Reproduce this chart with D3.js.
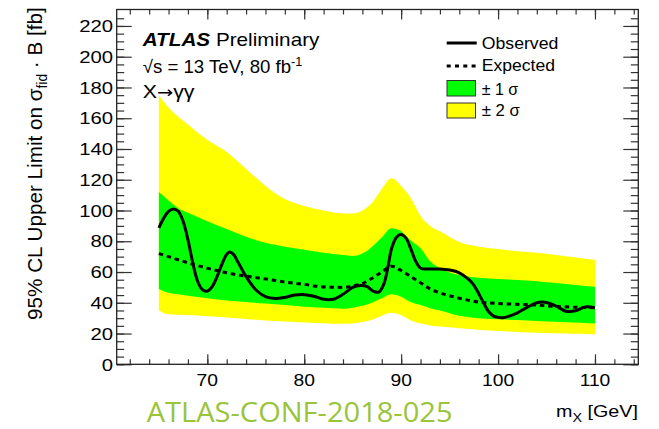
<!DOCTYPE html>
<html>
<head>
<meta charset="utf-8">
<script src="https://cdn.jsdelivr.net/npm/d3@7"></script>
<style>
  body { margin: 0; background: #fff; }
  svg { display: block; }
</style>
</head>
<body>
<svg id="chart" width="659" height="429"></svg>
<script>
// Mass points (GeV) at which the expected limit and its bands are given
const massBand = [65, 66, 67, 68, 70, 72, 74, 76, 78, 80, 82, 84, 85, 86, 87, 88, 89, 90, 91, 92, 93, 94, 96, 98, 100, 102, 104, 106, 108, 110];
const twoSigmaUp = [175, 167, 161, 156, 146, 138, 127, 116, 107.5, 103, 100, 98, 98, 100, 105, 114, 121, 116, 108, 96.5, 90, 86.5, 79.5, 76.5, 75, 73.5, 72.5, 71, 69.5, 68];
const oneSigmaUp = [112, 106.5, 101.5, 98.5, 93, 88, 83, 79, 76.5, 74.5, 72.5, 71, 70.5, 72, 76.5, 82.5, 88.5, 86.5, 80.5, 75.5, 67, 62.5, 58, 56.3, 55.5, 54.8, 54, 52.8, 51.6, 50.4];
const expected = [72, 70, 68, 66, 62.5, 59.5, 57.3, 55.5, 53.5, 52, 50.3, 50, 51, 52.5, 56, 60, 63.8, 61, 57, 53, 49, 46.5, 43, 40.5, 39.5, 39, 38.5, 37.6, 37.1, 36.8];
const oneSigmaDn = [49, 46.5, 45.5, 44.5, 43, 41.5, 40.5, 39.5, 38.5, 37.5, 36.8, 36.2, 36.8, 38, 40, 43, 45.5, 44, 40.5, 38.5, 36.5, 35, 31.5, 30, 29.3, 28.8, 28.2, 27.6, 27.1, 26.6];
const twoSigmaDn = [35, 32.5, 32.2, 32, 31.3, 30.5, 29.5, 28.5, 27.8, 27.2, 26.7, 26.3, 26.6, 27.5, 29, 31.5, 33.5, 32, 28.5, 26.5, 25.3, 24.5, 23.5, 22.5, 21.7, 21, 20.5, 20.2, 19.8, 19.5];

// Observed limit (fb)
const massObs = [65, 65.5, 66, 66.5, 67, 67.5, 68, 68.5, 69, 69.5, 70, 70.5, 71, 71.5, 72, 72.3, 72.7, 73.2, 74, 75, 76, 77, 78, 79, 80, 81, 82, 83, 84, 85, 85.8, 86.5, 87.1, 87.7, 88.2, 88.6, 89, 89.5, 90, 90.5, 91, 91.5, 92, 93, 94, 95, 96, 97, 97.5, 98, 98.5, 99, 99.5, 100, 100.5, 101, 102, 103, 104, 105, 106, 107, 108, 109, 110];
const observed = [88.7, 95, 99.5, 101, 99.5, 93, 81, 66, 54, 48.5, 47.6, 50.5, 57, 65, 71.5, 73, 71.5, 66, 57, 48.5, 44, 42.8, 43.5, 45, 45.3, 44.3, 42.3, 42.3, 45.5, 50, 51.3, 50.5, 47.6, 47, 52, 62, 75, 82.5, 84.4, 82, 75, 67, 62.5, 62, 62, 61.3, 59.5, 55, 51.5, 46, 40, 34.5, 31.5, 30.5, 30.3, 31, 33.5, 37, 40, 40.2, 37.8, 34.5, 34.8, 37.3, 36.8];

// Axis ticks
const xMajorTicks = [70, 80, 90, 100, 110];
const yMajorTicks = [0, 20, 40, 60, 80, 100, 120, 140, 160, 180, 200, 220];
const xMinorTicks = d3.range(62, 115, 2);
const yMinorTicks = d3.range(0, 230, 5);

const FONT = '"Liberation Sans", Arial, Helvetica, sans-serif';
const svg = d3.select('#chart');

// Frame of the plotting area
const L = 116.7, R = 638.3, T = 9.5, B = 364.3;
const x = d3.scaleLinear().domain([60.65, 114.47]).range([L, R]);
const y = d3.scaleLinear().domain([0, 230.7]).range([B, T]);

const bandRows = massBand.map((m, i) => ({
  m, up2: twoSigmaUp[i], up1: oneSigmaUp[i], exp: expected[i], dn1: oneSigmaDn[i], dn2: twoSigmaDn[i]
}));
const obsRows = massObs.map((m, i) => ({ m, v: observed[i] }));

const curve = d3.curveMonotoneX;
const plot = svg.append('g');

plot.append('path')
  .datum(bandRows)
  .attr('fill', '#ffff00')
  .attr('d', d3.area().curve(curve).x(d => x(d.m)).y0(d => y(d.dn2)).y1(d => y(d.up2)));

plot.append('path')
  .datum(bandRows)
  .attr('fill', '#00ff00')
  .attr('d', d3.area().curve(curve).x(d => x(d.m)).y0(d => y(d.dn1)).y1(d => y(d.up1)));

plot.append('path')
  .datum(bandRows)
  .attr('fill', 'none')
  .attr('stroke', '#000')
  .attr('stroke-width', 3)
  .attr('stroke-dasharray', '4.5,3.8')
  .attr('d', d3.line().curve(curve).x(d => x(d.m)).y(d => y(d.exp)));

plot.append('path')
  .datum(obsRows)
  .attr('fill', 'none')
  .attr('stroke', '#000')
  .attr('stroke-width', 3)
  .attr('stroke-linejoin', 'round')
  .attr('d', d3.line().curve(d3.curveCatmullRom.alpha(0.5)).x(d => x(d.m)).y(d => y(d.v)));

// Ticks on all four sides, pointing inward
function ticks(axis, values, size, tx, ty) {
  const g = svg.append('g').attr('transform', `translate(${tx},${ty})`)
    .call(axis.tickValues(values).tickSize(-size).tickFormat(''));
  g.select('.domain').remove();
  g.selectAll('.tick line').attr('stroke', '#333').attr('stroke-width', 1.2);
}
ticks(d3.axisBottom(x), xMinorTicks, 5, 0, B);
ticks(d3.axisBottom(x), xMajorTicks, 10, 0, B);
ticks(d3.axisTop(x), xMinorTicks, 5, 0, T);
ticks(d3.axisTop(x), xMajorTicks, 10, 0, T);
ticks(d3.axisLeft(y), yMinorTicks, 7.5, L, 0);
ticks(d3.axisLeft(y), yMajorTicks, 15, L, 0);
ticks(d3.axisRight(y), yMinorTicks, 7.5, R, 0);
ticks(d3.axisRight(y), yMajorTicks, 15, R, 0);

svg.append('rect')
  .attr('x', L).attr('y', T).attr('width', R - L).attr('height', B - T)
  .attr('fill', 'none').attr('stroke', '#222').attr('stroke-width', 1.3);

// Text helper: parts may change size / font / shift baseline; optional horizontal fit
function label(px, py, o) {
  const g = svg.append('g').attr('transform', `translate(${px},${py})` + (o.rotate ? ` rotate(${o.rotate})` : ''));
  const t = g.append('text')
    .attr('font-family', o.family || FONT)
    .attr('font-size', o.size)
    .attr('text-anchor', o.anchor || 'start')
    .attr('fill', o.fill || '#000');
  o.parts.forEach(p => {
    const s = t.append('tspan').text(p.text);
    if (p.size) s.attr('font-size', p.size);
    if (p.family) s.attr('font-family', p.family);
    if (p.dy) s.attr('dy', p.dy);
    if (p.weight) s.attr('font-weight', p.weight);
    if (p.style) s.attr('font-style', p.style);
  });
  if (o.width) {
    const w = t.node().getBBox().width;
    t.attr('transform', `scale(${o.width / w},1)`);
  } else if (o.sx) {
    t.attr('transform', `scale(${o.sx},1)`);
  }
  return t;
}

// Tick labels
yMajorTicks.forEach(v => label(113, y(v) + 6.2, { size: 17.2, anchor: 'end', sx: 1.18, parts: [{ text: String(v) }] }));
xMajorTicks.forEach(v => label(x(v), 386, { size: 17.2, anchor: 'middle', sx: 1.12, parts: [{ text: String(v) }] }));

// Axis titles
label(41.7, 320, {
  rotate: -90, size: 21, width: 313,
  parts: [{ text: '95% CL Upper Limit on σ' }, { text: 'fid', size: 14, dy: 5 }, { text: ' · B [fb]', dy: -5 }]
});
label(556, 417, {
  size: 16.5, width: 82,
  parts: [{ text: 'm' }, { text: 'X', size: 12, dy: 5 }, { text: ' [GeV]', dy: -5 }]
});

// Experiment label
label(142.7, 46, { size: 17.7, width: 178, parts: [{ text: 'ATLAS', weight: 'bold', style: 'italic' }, { text: ' Preliminary' }] });
label(142.7, 72.7, { size: 17.7, width: 160, parts: [{ text: '√s = 13 TeV, 80 fb' }, { text: '-1', size: 12, dy: -7 }] });
label(142.7, 98, {
  size: 17.7, width: 52,
  parts: [{ text: 'X' }, { text: '→', family: '"DejaVu Sans", sans-serif', size: 16 }, { text: 'γγ' }]
});

// Legend
const leg = svg.append('g');
leg.append('line').attr('x1', 446.7).attr('x2', 476.7).attr('y1', 43).attr('y2', 43)
  .attr('stroke', '#000').attr('stroke-width', 3);
leg.append('line').attr('x1', 446.7).attr('x2', 476.7).attr('y1', 66).attr('y2', 66)
  .attr('stroke', '#000').attr('stroke-width', 3).attr('stroke-dasharray', '4,4.3');
leg.append('rect').attr('x', 447).attr('y', 80.5).attr('width', 28.5).attr('height', 15.5)
  .attr('fill', '#00ff00').attr('stroke', '#333').attr('stroke-width', 1);
leg.append('rect').attr('x', 447).attr('y', 103).attr('width', 28.5).attr('height', 15)
  .attr('fill', '#ffff00').attr('stroke', '#333').attr('stroke-width', 1);
label(481.7, 48.5, { size: 16, width: 76.7, parts: [{ text: 'Observed' }] });
label(481.7, 70.8, { size: 16, width: 73.3, parts: [{ text: 'Expected' }] });
label(481.7, 94.5, { size: 16, width: 36.7, parts: [{ text: '± 1 σ' }] });
label(481.7, 115.5, { size: 16, width: 38.3, parts: [{ text: '± 2 σ' }] });

// Conference note reference
label(146.7, 421.5, {
  family: '"Open Sans", "Noto Sans", sans-serif', size: 27, width: 306, fill: '#99c43c',
  parts: [{ text: 'ATLAS-CONF-2018-025' }]
});
</script>
</body>
</html>
